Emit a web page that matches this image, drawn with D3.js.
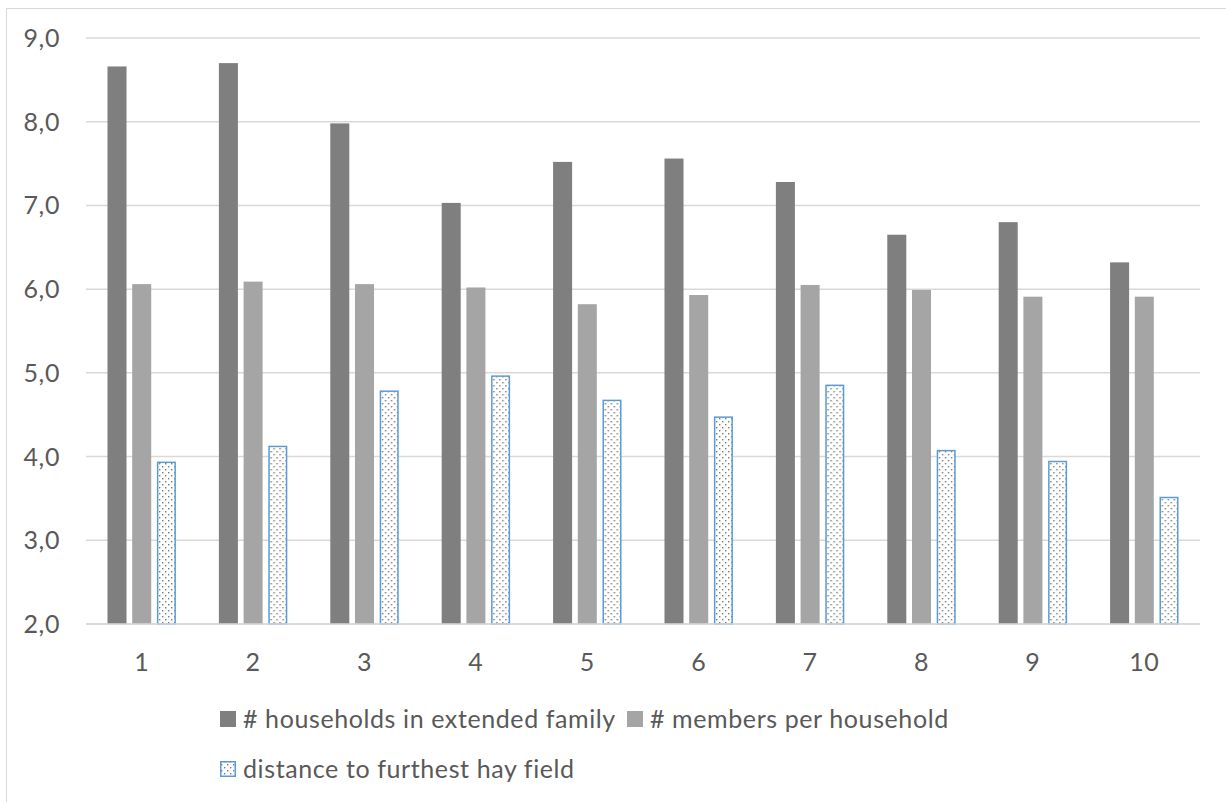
<!DOCTYPE html>
<html><head><meta charset="utf-8">
<script src="https://cdn.jsdelivr.net/npm/d3@7"></script>
<style>body{margin:0;background:#fff}svg{display:block}</style>
</head><body>
<svg id="c" width="1226" height="802"></svg>
<script>
const categories = ["1","2","3","4","5","6","7","8","9","10"];
const seriesNames = ["# households in extended family", "# members per household", "distance to furthest hay field"];
const households = [8.66, 8.70, 7.98, 7.03, 7.52, 7.56, 7.28, 6.65, 6.80, 6.32];
const members = [6.06, 6.09, 6.06, 6.02, 5.82, 5.93, 6.05, 5.99, 5.91, 5.91];
const distance = [3.94, 4.13, 4.79, 4.97, 4.68, 4.48, 4.86, 4.08, 3.95, 3.52];
const yTicks = [2, 3, 4, 5, 6, 7, 8, 9];

const svg = d3.select("#c");
const font = "Lato, 'Open Sans', sans-serif";
const textCol = "#595959";
const fs = 25, ls = 0.6;

svg.append("rect").attr("x",6.5).attr("y",8.5).attr("width",1300).attr("height",900)
  .attr("fill","#fff").attr("stroke","#d9d9d9").attr("stroke-width",1);

const defs = svg.append("defs");
const pat = defs.append("pattern").attr("id","dots").attr("patternUnits","userSpaceOnUse")
  .attr("width",6).attr("height",6);
pat.append("rect").attr("width",6).attr("height",6).attr("fill","#fff");
pat.append("rect").attr("x",1).attr("y",1).attr("width",1.4).attr("height",1.4).attr("fill","#7a7a7a");
pat.append("rect").attr("x",4).attr("y",4).attr("width",1.4).attr("height",1.4).attr("fill","#7a7a7a");

const L = 86, R = 1200, T = 38, B = 624;
const x = d3.scaleBand().domain(categories).range([L, R]).paddingInner(0).paddingOuter(0);
const xs = d3.scaleBand().domain(seriesNames).range([0, x.bandwidth()]).paddingInner(0.23).paddingOuter(0.87);
const y = d3.scaleLinear().domain([2, 9]).range([B, T]);

// gridlines
svg.append("g").selectAll("line").data(yTicks).join("line")
  .attr("x1", L).attr("x2", R).attr("y1", d => y(d)).attr("y2", d => y(d))
  .attr("stroke", "#d9d9d9").attr("stroke-width", 1.5);

// y labels
svg.append("g").selectAll("text").data(yTicks).join("text")
  .attr("x", 60).attr("y", d => y(d)).attr("dy","0.36em").attr("text-anchor","end")
  .attr("font-family", font).attr("font-size", fs).attr("letter-spacing", ls).attr("fill", textCol)
  .text(d => d.toFixed(1).replace(".", ","));

const data = categories.map((c, i) => ({c, vals: [households[i], members[i], distance[i]]}));
const fills = ["#7f7f7f", "#a5a5a5", "url(#dots)"];

const g = svg.append("g").selectAll("g").data(data).join("g")
  .attr("transform", d => `translate(${x(d.c)},0)`);
g.selectAll("rect").data(d => d.vals.map((v, k) => ({v, k}))).join("rect")
  .attr("x", d => xs(seriesNames[d.k]) + (d.k === 2 ? 0.75 : 0))
  .attr("width", d => xs.bandwidth() - (d.k === 2 ? 1.5 : 0))
  .attr("y", d => y(d.v) + (d.k === 2 ? 0.75 : 0))
  .attr("height", d => B - y(d.v) - (d.k === 2 ? 0.75 : 0))
  .attr("fill", d => fills[d.k])
  .attr("stroke", d => d.k === 2 ? "#5b9bd5" : "none")
  .attr("stroke-width", 1.5);

// x axis line
svg.append("line").attr("x1", L).attr("x2", R).attr("y1", B).attr("y2", B)
  .attr("stroke", "#d9d9d9").attr("stroke-width", 1.5);

// x labels
svg.append("g").selectAll("text").data(categories).join("text")
  .attr("x", d => x(d) + x.bandwidth()/2).attr("y", 662).attr("dy","0.36em")
  .attr("text-anchor","middle").attr("font-family", font).attr("font-size", fs).attr("letter-spacing", ls).attr("fill", textCol)
  .text(d => d);

// legend
const legendItems = [
  {name: seriesNames[0], k: 0, x: 220, y: 719},
  {name: seriesNames[1], k: 1, x: 627, y: 719},
  {name: seriesNames[2], k: 2, x: 220, y: 769}
];
const lg = svg.append("g").selectAll("g").data(legendItems).join("g")
  .attr("transform", d => `translate(${d.x},${d.y})`);
lg.append("rect").attr("x", d => d.k===2 ? 0.75 : 0).attr("y", d => d.k===2 ? -7.25 : -8)
  .attr("width", d => d.k===2 ? 14.5 : 16).attr("height", d => d.k===2 ? 14.5 : 16)
  .attr("fill", d => fills[d.k]).attr("stroke", d => d.k===2 ? "#5b9bd5" : "none").attr("stroke-width", 1.5);
lg.append("text").attr("x", 23).attr("y", 0).attr("dy","0.36em")
  .attr("font-family", font).attr("font-size", fs).attr("letter-spacing", ls).attr("fill", textCol)
  .text(d => d.name);
</script>
</body></html>
